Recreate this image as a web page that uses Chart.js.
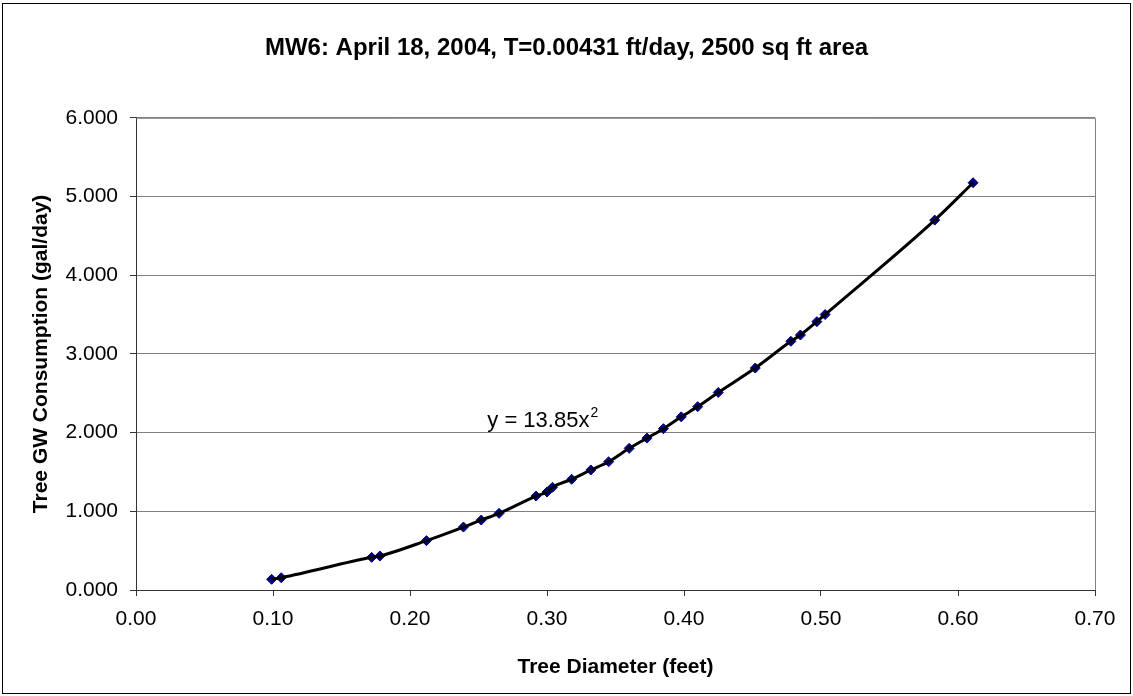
<!DOCTYPE html>
<html>
<head>
<meta charset="utf-8">
<script src="https://cdn.jsdelivr.net/npm/chart.js@4.4.0/dist/chart.umd.min.js"></script>
<style>
  body { margin: 0; background: #fff; }
  canvas { display: block; }
</style>
</head>
<body>
<canvas id="chart" width="1133" height="696"></canvas>
<script>
// values
const diameter = [0.099, 0.106, 0.172, 0.178, 0.212, 0.239, 0.252, 0.265, 0.292, 0.300,
  0.304, 0.318, 0.332, 0.345, 0.360, 0.373, 0.385, 0.398, 0.410, 0.425,
  0.452, 0.478, 0.485, 0.497, 0.503, 0.583, 0.611];
const consumption = [0.136, 0.156, 0.415, 0.432, 0.627, 0.800, 0.889, 0.974, 1.194, 1.245,
  1.305, 1.407, 1.525, 1.630, 1.800, 1.930, 2.050, 2.200, 2.330, 2.510,
  2.820, 3.160, 3.240, 3.410, 3.500, 4.700, 5.175];
const xTickLabels = ["0.00", "0.10", "0.20", "0.30", "0.40", "0.50", "0.60", "0.70"];
const yTickLabels = ["0.000", "1.000", "2.000", "3.000", "4.000", "5.000", "6.000"];
const titleText = "MW6: April 18, 2004, T=0.00431 ft/day, 2500 sq ft area";
const trendText = "y = 13.85x";
const trendAt = { x: 0.2564, y: 2.07 };

const points = diameter.map((d, i) => ({ x: d, y: consumption[i] }));
const FONT = "'Liberation Sans', Arial, sans-serif";

const extras = {
  id: "extras",
  beforeDatasetsDraw(chart) {
    const { ctx, chartArea: a } = chart;
    ctx.save();
    ctx.strokeStyle = "#808080";
    ctx.lineWidth = 1;
    ctx.beginPath();
    ctx.moveTo(a.left, a.top + 0.5);
    ctx.lineTo(a.right + 0.5, a.top + 0.5);
    ctx.lineTo(a.right + 0.5, a.bottom);
    ctx.stroke();
    ctx.restore();
  },
  afterDraw(chart) {
    const { ctx, scales } = chart;
    ctx.save();
    // trendline label
    const px = scales.x.getPixelForValue(trendAt.x);
    const py = scales.y.getPixelForValue(trendAt.y);
    ctx.fillStyle = "#000";
    ctx.textBaseline = "alphabetic";
    ctx.font = "22px " + FONT;
    ctx.fillText(trendText, px, py);
    const w = ctx.measureText(trendText).width;
    ctx.font = "14px " + FONT;
    ctx.fillText("2", px + w + 1, py - 10);
    // chart border
    ctx.strokeStyle = "#000";
    ctx.lineWidth = 1;
    ctx.strokeRect(2.5, 3.5, 1128, 690);
    ctx.restore();
  }
};

new Chart(document.getElementById("chart"), {
  type: "scatter",
  data: {
    datasets: [
      {
        data: points,
        showLine: true,
        borderColor: "#000",
        borderWidth: 3,
        pointRadius: 0,
        cubicInterpolationMode: "monotone",
        order: 0
      },
      {
        data: points,
        showLine: false,
        pointStyle: "rectRot",
        pointRadius: 5,
        backgroundColor: "#000080",
        borderColor: "#000080",
        borderWidth: 1,
        order: 1
      }
    ]
  },
  options: {
    responsive: false,
    animation: false,
    devicePixelRatio: 1,
    layout: { padding: 0 },
    plugins: {
      legend: { display: false },
      tooltip: { enabled: false },
      title: {
        display: true,
        text: titleText,
        color: "#000",
        font: { family: FONT, size: 24, weight: "bold" },
        padding: { top: 34, bottom: 55 }
      }
    },
    scales: {
      x: {
        type: "linear",
        min: 0,
        max: 0.7,
        afterFit: s => { s.height = 106; },
        ticks: {
          stepSize: 0.1,
          color: "#000",
          padding: 11,
          font: { family: FONT, size: 21 },
          callback: v => xTickLabels[Math.round(v * 10)]
        },
        grid: { drawOnChartArea: false, drawTicks: true, tickLength: 6, tickColor: "#333" },
        border: { color: "#333", width: 1 },
        title: {
          display: true,
          text: "Tree Diameter (feet)",
          color: "#000",
          font: { family: FONT, size: 21, weight: "bold" },
          padding: { top: 0, bottom: 16 }
        }
      },
      y: {
        type: "linear",
        min: 0,
        max: 6,
        afterFit: s => { s.width = 136; },
        ticks: {
          stepSize: 1,
          color: "#000",
          padding: 12,
          font: { family: FONT, size: 21 },
          callback: v => yTickLabels[Math.round(v)]
        },
        grid: { color: "#808080", tickColor: "#333", tickLength: 6, drawTicks: true },
        border: { color: "#333", width: 1 },
        title: {
          display: true,
          text: "Tree GW Consumption (gal/day)",
          color: "#000",
          font: { family: FONT, size: 21, weight: "bold" },
          padding: { top: 29, bottom: 0 }
        }
      },
      // empty right-hand strip so the title centres on the whole chart
      pad: {
        type: "linear",
        position: "right",
        min: 0,
        max: 1,
        afterFit: s => { s.width = 38; },
        grid: { display: false },
        border: { display: false },
        ticks: { display: false }
      }
    }
  },
  plugins: [extras]
});
</script>
</body>
</html>
